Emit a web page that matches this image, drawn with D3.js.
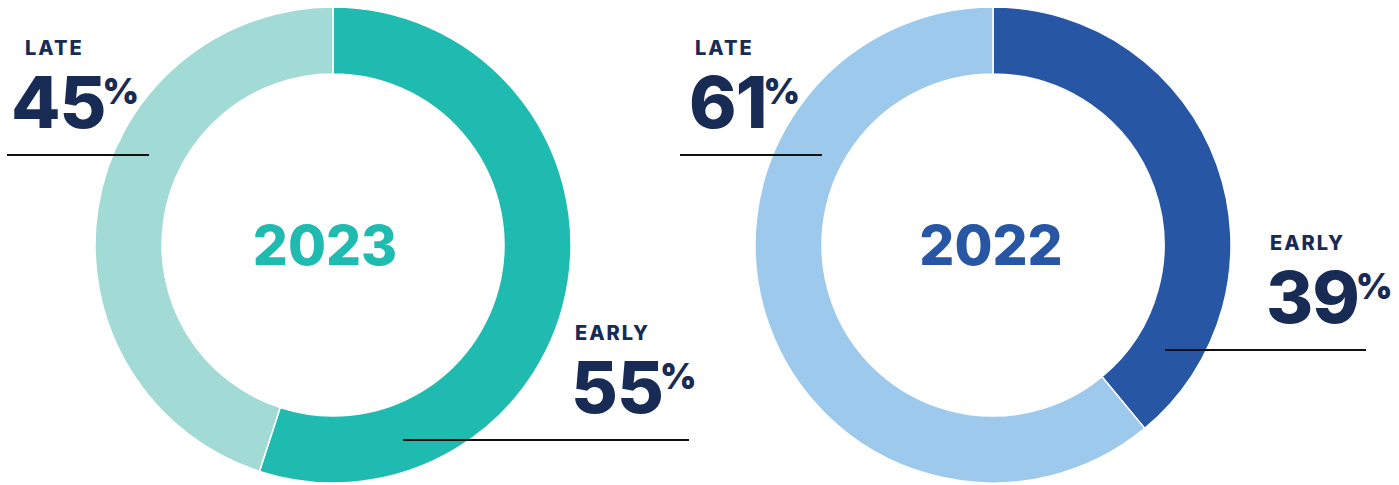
<!DOCTYPE html>
<html lang="en">
<head>
    <meta charset="UTF-8">
    <title>Early vs Late</title>
    <script src="https://d3js.org/d3.v7.min.js"></script>
    <style>
        body { margin: 0; background: #fff; }
        svg { display: block; font-family: Inter, "Open Sans", sans-serif; }
    </style>
</head>
<body>
    <svg id="chart" width="1399" height="485"></svg>

    <script>
        // Data
        const years = ['2023', '2022'];
        const categories = ['EARLY', 'LATE'];
        const earlyValues = [55, 39];
        const lateValues = [45, 61];

        const palette = [
            { early: '#20bbb0', late: '#a2dad5', year: '#20bbb0' },
            { early: '#2756a5', late: '#9dc9ec', year: '#2756a5' }
        ];
        const navy = '#182b54';

        // Layout for each donut and its callouts
        const layout = [
            {
                cx: 333, cy: 245, yearDx: -8,
                labels: {
                    LATE:  { lx: 25,  nx: 11,  y: 55,  line: [7, 149, 155] },
                    EARLY: { lx: 575, nx: 571, y: 340, line: [403, 689, 440] }
                }
            },
            {
                cx: 993, cy: 245, yearDx: -2,
                labels: {
                    LATE:  { lx: 695,  nx: 689,  y: 55,  line: [680, 822, 155] },
                    EARLY: { lx: 1270, nx: 1266, y: 250, line: [1165, 1366, 350] }
                }
            }
        ];

        const outerR = 238, innerR = 171;
        const svg = d3.select('#chart');

        const pie = d3.pie().sort(null).value(d => d.value);
        const arc = d3.arc().innerRadius(innerR).outerRadius(outerR);

        years.forEach((year, i) => {
            const conf = layout[i];
            const data = [
                { key: categories[0], value: earlyValues[i] },
                { key: categories[1], value: lateValues[i] }
            ];
            const g = svg.append('g').attr('transform', `translate(${conf.cx},${conf.cy})`);

            g.selectAll('path')
                .data(pie(data))
                .enter().append('path')
                .attr('d', arc)
                .attr('fill', d => d.data.key === 'EARLY' ? palette[i].early : palette[i].late)
                .attr('stroke', '#fff')
                .attr('stroke-width', 1.5);

            g.append('text')
                .attr('x', conf.yearDx)
                .attr('y', 20)
                .attr('text-anchor', 'middle')
                .attr('font-size', 55)
                .attr('font-weight', 800)
                .attr('fill', palette[i].year)
                .text(year);

            // Callouts
            data.forEach(d => {
                const lab = conf.labels[d.key];
                svg.append('text')
                    .attr('x', lab.lx)
                    .attr('y', lab.y)
                    .attr('font-size', 20)
                    .attr('font-weight', 800)
                    .attr('letter-spacing', 2)
                    .attr('fill', navy)
                    .text(d.key);

                const t = svg.append('text')
                    .attr('x', lab.nx)
                    .attr('y', lab.y + 73)
                    .attr('font-weight', 800)
                    .attr('fill', navy);
                t.append('tspan')
                    .attr('font-size', 72)
                    .attr('letter-spacing', -1)
                    .text(d.value);
                t.append('tspan')
                    .attr('font-size', 35)
                    .attr('font-weight', 900)
                    .attr('dy', -24)
                    .attr('dx', -3)
                    .text('%');

                svg.append('line')
                    .attr('x1', lab.line[0])
                    .attr('x2', lab.line[1])
                    .attr('y1', lab.line[2])
                    .attr('y2', lab.line[2])
                    .attr('stroke', '#111')
                    .attr('stroke-width', 2);
            });
        });
    </script>
</body>
</html>
